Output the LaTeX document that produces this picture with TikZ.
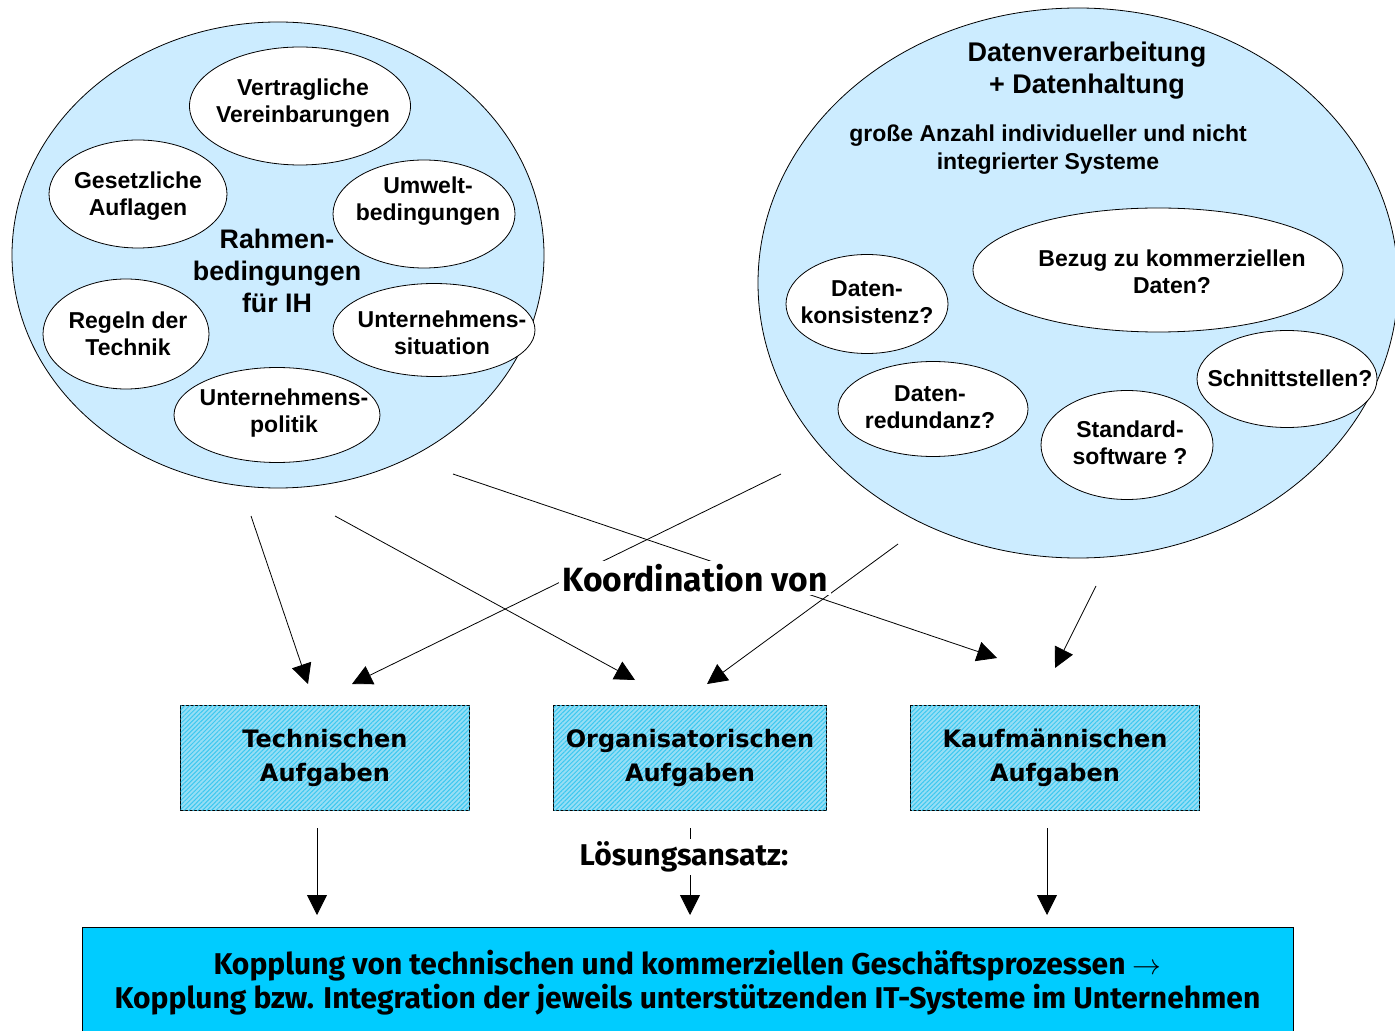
\documentclass[tikz,border=0pt]{standalone}
\usepackage{fontspec}
\setmainfont{Liberation Sans}
\newfontfamily\verd{DejaVu Sans}
\newfontfamily\frut{Fira Sans}
\usepackage{tikz}
\usetikzlibrary{shapes.geometric,arrows.meta,patterns.meta,positioning}

\definecolor{skyblue}{RGB}{204,236,255}
\definecolor{hatchblue}{RGB}{150,222,245}
\definecolor{hatchline}{RGB}{60,200,240}
\definecolor{topcyan}{RGB}{0,204,255}

\tikzset{
	bigblob/.style={ellipse, draw, fill=skyblue, inner sep=0pt},
	blob/.style={ellipse, draw, fill=white, inner sep=0pt},
	blobtext/.style={align=center, inner sep=0pt, font=\fontsize{11.5}{13.5}\selectfont\bfseries},
	task/.style={rectangle, draw, fill=hatchblue, align=center,
		postaction={pattern={Lines[angle=45,distance=1.6pt,line width=0.5pt]}, pattern color=hatchline},
		minimum width=144.5pt, minimum height=52.5pt, inner sep=0pt,
		font=\verd\fontsize{12}{17}\selectfont\bfseries},
	arr/.style={-{Triangle[length=10pt,width=10pt]}, thin},
}

% ellipse with its text: name, centre, width, height, text position, text
\newcommand{\blobnode}[6]{%
	\node[blob, minimum width=#3, minimum height=#4] (#1) at (#2) {};
	\node[blobtext] (#1t) at (#5) {#6};}

\begin{document}
\begin{tikzpicture}[x=0.5pt,y=-0.5pt]
	\useasboundingbox (0,0) rectangle (1395,1031);
	\clip (0,0) rectangle (1395,1031);

	% Rahmenbedingungen
	\node[bigblob, minimum width=266pt, minimum height=233pt] (rb) at (278,255) {};
	\blobnode{vv}{300,106}{110.5pt}{59pt}{303,103}{Vertragliche\\Vereinbarungen}
	\blobnode{ga}{138,194}{89pt}{54pt}{138,196}{Gesetzliche\\Auflagen}
	\blobnode{ub}{424,214}{91pt}{54pt}{428,201}{Umwelt-\\bedingungen}
	\blobnode{rt}{126,334}{83pt}{55pt}{128,334}{Regeln der\\Technik}
	\blobnode{us}{434,330}{101pt}{46.5pt}{442,333}{Unternehmens-\\situation}
	\blobnode{up}{277,415}{103pt}{47.5pt}{284,413}{Unternehmens-\\politik}
	\node[align=center, font=\fontsize{13.4}{16}\selectfont\bfseries] (rbt) at (277,271) {Rahmen-\\bedingungen\\f\"ur IH};

	% Datenverarbeitung
	\node[bigblob, minimum width=320pt, minimum height=275pt] (dv) at (1078,283) {};
	\node[align=center, font=\fontsize{13.5}{16}\selectfont\bfseries] (dvt) at (1087,71) {Datenverarbeitung\\+ Datenhaltung};
	\node[align=center, font=\fontsize{11.5}{14}\selectfont\bfseries] (gat) at (1048,150) {gro\ss e Anzahl individueller und nicht\\integrierter Systeme};
	\blobnode{bz}{1158,270}{185pt}{62pt}{1172,272}{Bezug zu kommerziellen\\Daten?}
	\blobnode{dk}{867,304}{81pt}{49.5pt}{867,302}{Daten-\\konsistenz?}
	\blobnode{dr}{933,409}{95pt}{47.5pt}{930,407}{Daten-\\redundanz?}
	\blobnode{ss}{1127,445}{86pt}{54.5pt}{1130,443}{Standard-\\software ?}
	\blobnode{sn}{1287,379}{90pt}{48.5pt}{1290,378}{Schnittstellen?}

	% Koordination
	\coordinate (a1) at (453,474);
	\coordinate (a2) at (781,474);
	\coordinate (a3) at (898,544);
	\coordinate (a4) at (335,516);
	\coordinate (a5) at (251,516);
	\coordinate (a6) at (1096,586);
	\coordinate (e1) at (997,658);
	\coordinate (e2) at (352,684);
	\coordinate (e3) at (707,684);
	\coordinate (e4) at (635,680);
	\coordinate (e5) at (308,684);
	\coordinate (e6) at (1055,668);
	\draw[arr] (a1) -- (e1);
	\draw[arr] (a2) -- (e2);
	\draw[arr] (a3) -- (e3);
	\draw[arr] (a4) -- (e4);
	\draw[arr] (a5) -- (e5);
	\draw[arr] (a6) -- (e6);
	\node[fill=white, inner sep=1.5pt, font=\frut\fontsize{16.8}{19}\selectfont\bfseries] (kv) at (695,578) {Koordination von};

	% Aufgaben
	\node[task] (ta) at (325,758) {Technischen\\Aufgaben};
	\node[task, minimum width=136.5pt] (oa) at (690,758) {Organisatorischen\\Aufgaben};
	\node[task] (ka) at (1055,758) {Kaufm\"annischen\\Aufgaben};

	% Loesungsansatz
	\node[draw, fill=topcyan, minimum width=605.5pt, minimum height=56pt, align=center,
		font=\frut\fontsize{15}{17}\selectfont\bfseries] (kp) at (687.5,983)
		{Kopplung von technischen und kommerziellen Gesch\"aftsprozessen $\rightarrow$\\
		Kopplung bzw. Integration der jeweils unterst\"utzenden IT-Systeme im Unternehmen};
	\coordinate (s1) at (317,828);
	\coordinate (s2) at (690,828);
	\coordinate (s3) at (1047,828);
	\coordinate (k1) at (317,915);
	\coordinate (k2) at (690,915);
	\coordinate (k3) at (1047,915);
	\draw[arr] (s1) -- (k1);
	\draw[arr] (s2) -- (k2);
	\draw[arr] (s3) -- (k3);
	\node[fill=white, inner sep=1.5pt, font=\frut\fontsize{15}{17}\selectfont\bfseries] (la) at (684,857) {L\"osungsansatz:};
\end{tikzpicture}
\end{document}
